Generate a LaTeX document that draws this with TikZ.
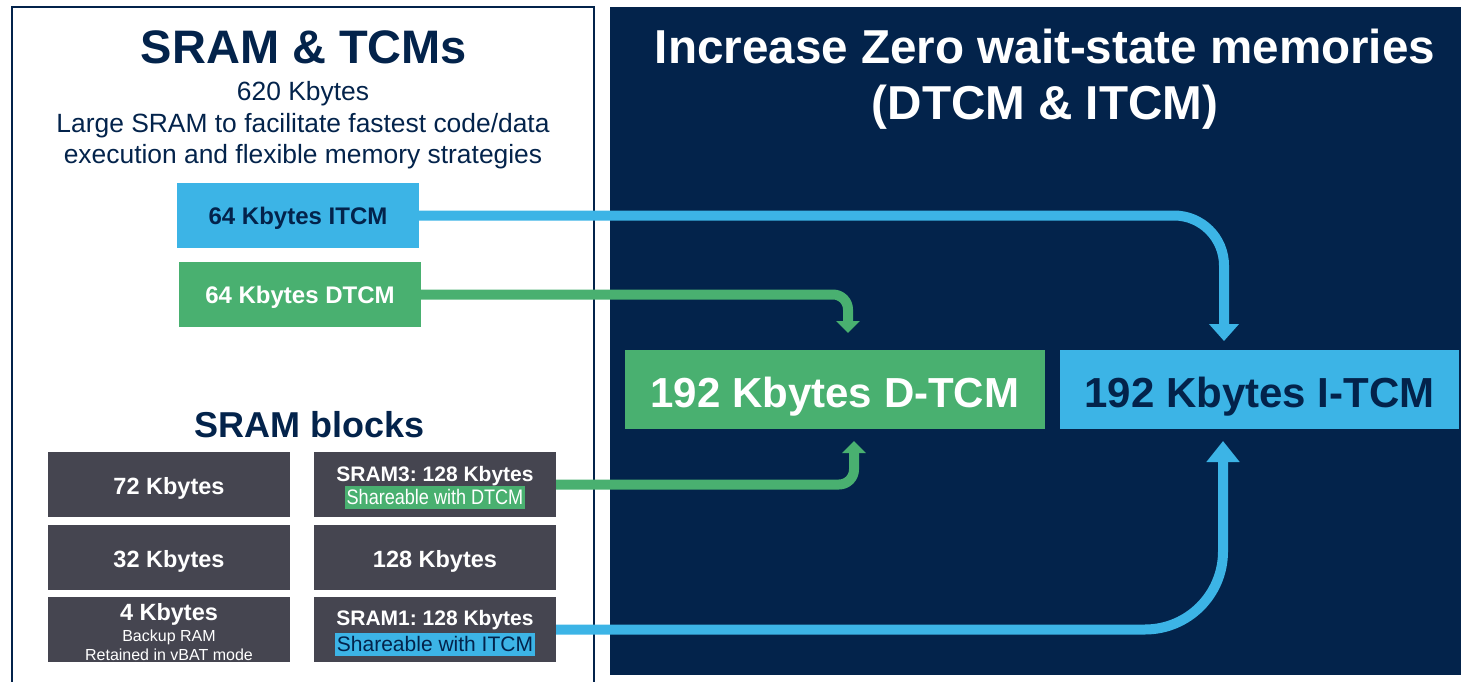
\documentclass[tikz,border=0pt]{standalone}
\usepackage{fontspec}
\setmainfont{Liberation Sans}
\usepackage{graphicx}
\usetikzlibrary{arrows.meta}
\definecolor{stnavy}{HTML}{03234B}
\definecolor{stblue}{HTML}{3CB4E6}
\definecolor{stgreen}{HTML}{49B070}
\definecolor{stgray}{HTML}{454550}
\newcommand{\fsz}[1]{\fontsize{#1}{#1}\selectfont}
\frenchspacing
\begin{document}
\begin{tikzpicture}[x=1pt,y=-1pt,
  box/.style={draw=none, inner sep=0pt, outer sep=0pt, anchor=north west},
  blk/.style={box, fill=stgray, minimum width=242pt, minimum height=65pt},
  txt/.style={inner sep=0pt, anchor=base},
  hl/.style={inner xsep=1.5pt, inner ysep=0pt, anchor=base, text depth=5pt, text height=18pt},
  link/.style={line width=10pt, line join=round}
]
\useasboundingbox (0,0) rectangle (1461,682);
\clip (0,0) rectangle (1461,682);

% panels
\draw[stnavy, line width=2.5pt] (12,700) -- (12,7) -- (594,7) -- (594,700);
\fill[stnavy] (610,7) rectangle (1461,675);

% titles
\node[txt, text=stnavy, font=\bfseries\fsz{47}] (ttl) at (304,64) {SRAM \& TCMs};
\node[txt, text=stnavy, font=\fsz{26.4}] (sub1) at (303,101) {620 Kbytes};
\node[txt, text=stnavy, font=\fsz{26.4}] (sub2) at (303,132) {Large SRAM to facilitate fastest code/data};
\node[txt, text=stnavy, font=\fsz{26.4}] (sub3) at (303,163) {execution and flexible memory strategies};
\node[txt, text=white, font=\bfseries\fsz{47.6}] (rt1) at (1045,64) {Increase Zero wait-state memories};
\node[txt, text=white, font=\bfseries\fsz{47.6}] (rt2) at (1045,120) {(DTCM \& ITCM)};
\node[txt, text=stnavy, font=\bfseries\fsz{36}] (blocks) at (310,437) {SRAM blocks};

% boxes
\node[box, fill=stblue, minimum width=242pt, minimum height=65pt] (itcm64) at (177,183) {};
\node[box, fill=stgreen, minimum width=242pt, minimum height=65pt] (dtcm64) at (179,262) {};
\node[box, fill=stgreen, minimum width=420pt, minimum height=79pt] (dtcm192) at (625,350) {};
\node[box, fill=stblue, minimum width=399pt, minimum height=79pt] (itcm192) at (1060,350) {};
\node[blk] (b72) at (48,452) {};
\node[blk] (sram3) at (314,452) {};
\node[blk] (b32) at (48,525) {};
\node[blk] (b128) at (314,525) {};
\node[blk] (b4) at (48,597) {};
\node[blk] (sram1) at (314,597) {};

% connectors
\coordinate (dtip) at (848,333);
\coordinate (s3tip) at (854,441);
\coordinate (itip) at (1224,341);
\coordinate (s1tip) at (1223,441);
\draw[link, stgreen, rounded corners=15pt, -{Triangle[width=23pt,length=12pt]}] (dtcm64.east) -| (dtip);
\draw[link, stgreen, rounded corners=15pt, -{Triangle[width=23pt,length=12pt]}] (sram3.east) -| (s3tip);
\draw[link, stblue, rounded corners=50pt, -{Triangle[width=29pt,length=17pt]}] (itcm64.east) -| (itip);
\draw[link, stblue, rounded corners=78pt, -{Triangle[width=32pt,length=21pt]}] (sram1.east) -| (s1tip);

% box texts
\node[txt, text=stnavy, font=\bfseries\fsz{24}] (itcm64t) at (298,224) {64 Kbytes ITCM};
\node[txt, text=white, font=\bfseries\fsz{24}] (dtcm64t) at (300,303) {64 Kbytes DTCM};
\node[txt, text=white, font=\bfseries\fsz{42}] (dtcm192t) at (835,407) {192 Kbytes D-TCM};
\node[txt, text=stnavy, font=\bfseries\fsz{42}] (itcm192t) at (1259.5,407) {192 Kbytes I-TCM};
\node[txt, text=white, font=\bfseries\fsz{23.5}] (b72t) at (169,494) {72 Kbytes};
\node[txt, text=white, font=\bfseries\fsz{21}] (sram3t) at (435,481) {SRAM3: 128 Kbytes};
\node[hl, fill=stgreen, text=white, font=\fsz{21}] (sram3h) at (435,504) {\scalebox{0.86}[1]{Shareable with DTCM}};
\node[txt, text=white, font=\bfseries\fsz{23.5}] (b32t) at (169,567.5) {32 Kbytes};
\node[txt, text=white, font=\bfseries\fsz{23.5}] (b128t) at (435,567.5) {128 Kbytes};
\node[txt, text=white, font=\bfseries\fsz{23.5}] (b4t) at (169,620) {4 Kbytes};
\node[txt, text=white, font=\fsz{16}] (b4t2) at (169,641.5) {Backup RAM};
\node[txt, text=white, font=\fsz{16}] (b4t3) at (169,660) {Retained in vBAT mode};
\node[txt, text=white, font=\bfseries\fsz{21}] (sram1t) at (435,625) {SRAM1: 128 Kbytes};
\node[hl, fill=stblue, text=stnavy, font=\fsz{21}] (sram1h) at (435,651) {Shareable with ITCM};
\end{tikzpicture}
\end{document}
